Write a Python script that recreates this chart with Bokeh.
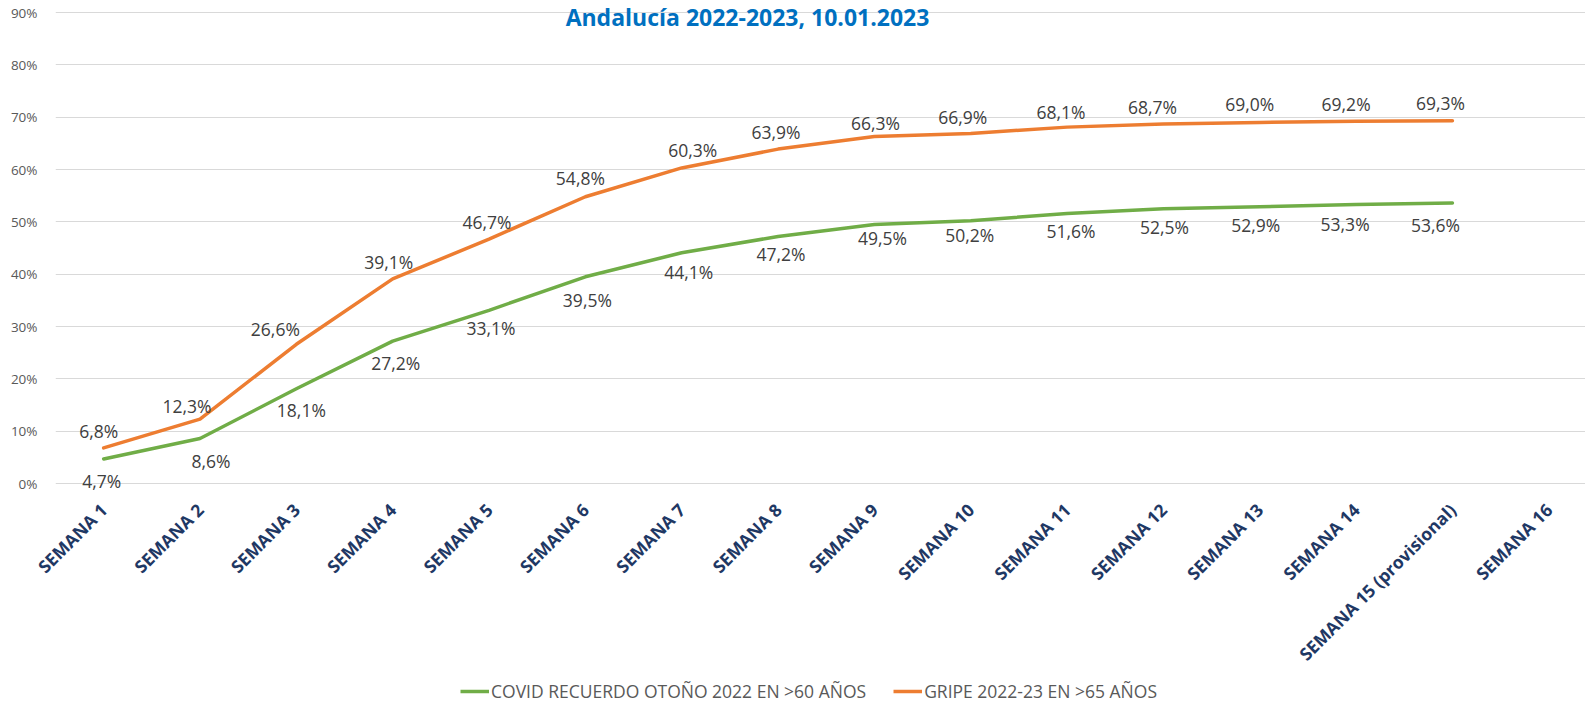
import math
from bokeh.plotting import figure
from bokeh.layouts import column
from bokeh.models import (ColumnDataSource, Range1d, FixedTicker, PrintfTickFormatter,
                          Legend, LegendItem, Label)
from bokeh.core.properties import value
from bokeh.embed import file_html
from bokeh.resources import INLINE

# ---------------- data ----------------
CATEGORIES = ["SEMANA 1", "SEMANA 2", "SEMANA 3", "SEMANA 4", "SEMANA 5", "SEMANA 6",
              "SEMANA 7", "SEMANA 8", "SEMANA 9", "SEMANA 10", "SEMANA 11", "SEMANA 12",
              "SEMANA 13", "SEMANA 14", "SEMANA 15 (provisional)", "SEMANA 16"]
COVID = [4.7, 8.6, 18.1, 27.2, 33.1, 39.5, 44.1, 47.2, 49.5, 50.2, 51.6, 52.5, 52.9, 53.3, 53.6]
GRIPE = [6.8, 12.3, 26.6, 39.1, 46.7, 54.8, 60.3, 63.9, 66.3, 66.9, 68.1, 68.7, 69.0, 69.2, 69.3]
Y_TICKS = [0, 10, 20, 30, 40, 50, 60, 70, 80, 90]
TITLE = "Andalucía 2022-2023, 10.01.2023"
COVID_NAME = "COVID RECUERDO OTOÑO 2022 EN >60 AÑOS"
GRIPE_NAME = "GRIPE 2022-23 EN >65 AÑOS"

# label placement tweaks (screen px, as in the original chart)
GRIPE_DX = [-5, -13, -21, -4, -2, -5, 11, -2, 1, -8, -6, -11, -10, -10, -12]
GRIPE_DY = [-17, -13, -15, -17, -17, -19, -18, -17, -14, -16, -15, -17, -18, -17, -18]
COVID_DX = [-2, 11, 5, 3, 2, 2, 7, 3, 8, -1, 4, 1, -4, -11, -17]
COVID_DY = [22, 22, 21, 22, 18, 23, 19, 17, 14, 14, 18, 18, 18, 19, 22]

GREEN = "#70AD47"
ORANGE = "#ED7D31"


def fmt(v):
    return f"{v:.1f}".replace(".", ",") + "%"


xs = [i + 1 for i in range(len(COVID))]
src_c = ColumnDataSource(dict(x=xs, y=COVID, t=[fmt(v) for v in COVID], dx=COVID_DX, dy=COVID_DY))
src_g = ColumnDataSource(dict(x=xs, y=GRIPE, t=[fmt(v) for v in GRIPE], dx=GRIPE_DX, dy=GRIPE_DY))

W = 1585
H_MAIN, H_LEG = 676, 30
LEFT = 55
FRAME_BOTTOM = 492          # px from top
ZERO_PX = 484               # px of the 0% line
px_per_cat = 96.34
px_per_pct = 5.244
frame_w = W - LEFT

p = figure(width=W, height=H_MAIN, output_backend="svg", toolbar_location=None,
           x_range=Range1d(0.5, 0.5 + frame_w / px_per_cat),
           y_range=Range1d(-(FRAME_BOTTOM - ZERO_PX) / px_per_pct, ZERO_PX / px_per_pct),
           min_border_left=LEFT, min_border_right=0, min_border_top=0,
           min_border_bottom=H_MAIN - FRAME_BOTTOM)
p.outline_line_color = None
p.background_fill_color = "white"
p.border_fill_color = "white"

# axes
p.xaxis.ticker = FixedTicker(ticks=[i + 1 for i in range(len(CATEGORIES))])
p.xaxis.major_label_overrides = {i + 1: c for i, c in enumerate(CATEGORIES)}
p.xaxis.major_label_orientation = math.pi / 4
p.xaxis.major_label_text_font = "Open Sans"
p.xaxis.major_label_text_font_style = "bold"
p.xaxis.major_label_text_font_size = "17.5px"
p.xaxis.major_label_text_color = "#1F3864"
p.xaxis.major_label_standoff = 9
p.xaxis.axis_line_color = None
p.xaxis.major_tick_line_color = None
p.xaxis.minor_tick_line_color = None

p.yaxis.ticker = FixedTicker(ticks=Y_TICKS)
p.yaxis.formatter = PrintfTickFormatter(format="%d%%")
p.yaxis.major_label_text_font = "Open Sans"
p.yaxis.major_label_text_font_size = "13.5px"
p.yaxis.major_label_text_color = "#595959"
p.yaxis.major_label_standoff = 12
p.yaxis.axis_line_color = None
p.yaxis.major_tick_line_color = None
p.yaxis.minor_tick_line_color = None

p.xgrid.grid_line_color = None
p.ygrid.grid_line_color = "#d9d9d9"
p.ygrid.grid_line_width = 1

# lines
p.line("x", "y", source=src_c, line_color=GREEN, line_width=3.5,
       line_join="round", line_cap="round")
p.line("x", "y", source=src_g, line_color=ORANGE, line_width=3.5,
       line_join="round", line_cap="round")

# data labels
for src in (src_c, src_g):
    p.text("x", "y", text="t", source=src, x_offset="dx", y_offset="dy",
           text_align="center", text_baseline="middle",
           text_font=value("Open Sans"), text_font_size="17.5px", text_color="#404040")

# title
p.add_layout(Label(x=747 - LEFT, y=FRAME_BOTTOM - 17, x_units="screen", y_units="screen",
                   text=TITLE, text_align="center", text_baseline="alphabetic",
                   text_font="Open Sans", text_font_style="bold", text_font_size="23px",
                   text_color="#0070C0"))

# legend strip (separate small figure below the chart; its frame is aligned with the chart's)
lg = figure(width=W, height=H_LEG, output_backend="svg", toolbar_location=None,
            x_range=Range1d(0, 1), y_range=Range1d(0, 1),
            x_axis_location=None, y_axis_location=None, min_border=0)
lg.outline_line_color = None
lg.grid.visible = False
lc = lg.line([-2, -1], [-2, -1], line_color=GREEN, line_width=3.5)
lo = lg.line([-2, -1], [-2, -1], line_color=ORANGE, line_width=3.5)
legend = Legend(items=[LegendItem(label=COVID_NAME, renderers=[lc]),
                       LegendItem(label=GRIPE_NAME, renderers=[lo])],
                orientation="horizontal", location=(460 - LEFT, 3),
                glyph_width=29, glyph_height=20, label_standoff=2, spacing=27,
                padding=0, margin=0, border_line_color=None, background_fill_alpha=0,
                label_text_font="Open Sans", label_text_font_size="17.5px",
                label_text_color="#595959")
lg.add_layout(legend, "center")

layout = column(p, lg, spacing=0)
open("out.html", "w").write(file_html(layout, INLINE))
